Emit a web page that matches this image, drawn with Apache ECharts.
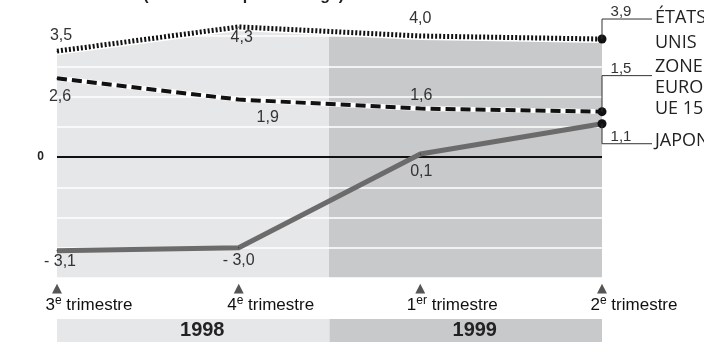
<!DOCTYPE html>
<html>
<head>
<meta charset="utf-8">
<script src="https://cdn.jsdelivr.net/npm/echarts@6/dist/echarts.min.js"></script>
<style>
  html, body { margin: 0; padding: 0; background: #fff; }
  #chart { width: 704px; height: 342px; }
</style>
</head>
<body>
<div id="chart"></div>
<script>
// Quarterly GDP growth, volume (% change)
const quarters = ['3e trimestre', '4e trimestre', '1er trimestre', '2e trimestre'];
const years = ['1998', '1999'];
const usValues = [3.5, 4.3, 4.0, 3.9];
const euroValues = [2.6, 1.9, 1.6, 1.5];
const japanValues = [-3.1, -3.0, 0.1, 1.1];
const seriesNames = ['ÉTATS-\nUNIS', 'ZONE\nEURO\nUE 15', 'JAPON'];

// Label placement (pixel offsets from each point)
const usLabelOffsets = [[4, -16], [3, 11], [0, -17]];
const euroLabelOffsets = [[3, 18], [29, 18], [1, -13]];
const japanLabelOffsets = [[3, 11], [0, 13], [1, 18]];

const LIGHT = '#e6e7e8';
const DARK = '#c8c9ca';
const LABEL_FONT = 'Liberation Sans, Arial, sans-serif';

function fmt(v) {
  const s = Math.abs(v).toFixed(1).replace('.', ',');
  return v < 0 ? '- ' + s : s;
}

function pointData(values, offsets) {
  return values.map((v, i) => i < offsets.length
    ? { value: v, label: { show: true, offset: offsets[i] } }
    : { value: v, label: { show: false } });
}

const pointLabel = {
  show: true,
  position: 'inside',
  formatter: p => fmt(p.value),
  fontSize: 16,
  color: '#333',
  fontFamily: LABEL_FONT
};

function endSymbolSize(values) {
  return (v, p) => (p.dataIndex === values.length - 1 ? 9 : 1);
}

const chart = echarts.init(document.getElementById('chart'), null, { renderer: 'canvas' });

const option = {
  animation: false,
  backgroundColor: '#fff',
  title: {
    text: '{b|PIB en volume} {n|(variation en }{b|pourcentage}{n|)}',
    left: 28,
    top: -13,
    padding: 0,
    textStyle: {
      rich: {
        b: { fontSize: 16, fontWeight: 'bold', color: '#222', fontFamily: LABEL_FONT },
        n: { fontSize: 16, color: '#222', fontFamily: LABEL_FONT }
      }
    }
  },
  grid: [
    { left: 57, right: 102, top: 36, bottom: 64, outerBoundsMode: 'none', containLabel: false },
    { left: 57, right: 102, top: 319, bottom: 0, outerBoundsMode: 'none', containLabel: false }
  ],
  xAxis: [
    {
      type: 'category',
      gridIndex: 0,
      data: quarters,
      boundaryGap: false,
      axisLine: { show: false },
      axisTick: { show: false },
      axisLabel: {
        interval: 0,
        margin: 4,
        hideOverlap: false,
        formatter: val => {
          const m = val.match(/^(\d+)(\D+?) (.+)$/);
          return '{tri|▲}\n{sp| }{n|' + m[1] + '}{sup|' + m[2] + '}{t| ' + m[3] + '}';
        },
        rich: {
          tri: { fontFamily: 'DejaVu Sans', fontSize: 13, color: '#555', lineHeight: 13, align: 'center' },
          sp: { width: 64, fontSize: 17, lineHeight: 20 },
          n: { fontSize: 17, color: '#111', fontFamily: LABEL_FONT, lineHeight: 20 },
          sup: { fontSize: 12, color: '#111', fontFamily: LABEL_FONT, lineHeight: 20, verticalAlign: 'top', padding: [0, 0, 7, 0] },
          t: { fontSize: 17, color: '#111', fontFamily: LABEL_FONT, lineHeight: 20 }
        }
      }
    },
    {
      type: 'category',
      gridIndex: 1,
      data: years,
      axisLine: { show: false },
      axisTick: { show: false },
      axisLabel: { show: false }
    }
  ],
  yAxis: [
    {
      type: 'value',
      gridIndex: 0,
      min: -4,
      max: 4,
      interval: 1,
      z: 2,
      axisLine: { show: false },
      axisTick: { show: false },
      splitLine: { show: true, lineStyle: { color: '#ffffff', width: 1.5 } },
      axisLabel: {
        margin: 13,
        formatter: v => (v === 0 ? '0' : ''),
        fontSize: 12,
        fontWeight: 'bold',
        color: '#222',
        fontFamily: LABEL_FONT
      }
    },
    {
      type: 'value',
      gridIndex: 1,
      min: 0,
      max: 1,
      show: false
    }
  ],
  series: [
    // shaded background under the US curve (1998 light, 1999 darker)
    {
      type: 'line',
      xAxisIndex: 0, yAxisIndex: 0,
      data: usValues,
      symbol: 'none',
      clip: false,
      silent: true,
      z: 1,
      lineStyle: { width: 0, opacity: 0 },
      areaStyle: {
        origin: 'start',
        opacity: 1,
        color: {
          type: 'linear', x: 0, y: 0, x2: 1, y2: 0,
          colorStops: [
            { offset: 0, color: LIGHT },
            { offset: 0.5, color: LIGHT },
            { offset: 0.5, color: DARK },
            { offset: 1, color: DARK }
          ]
        }
      }
    },
    // white halo under the US line + zero line
    {
      type: 'line',
      data: usValues,
      symbol: 'none',
      clip: false,
      silent: true,
      z: 3,
      lineStyle: { color: '#ffffff', width: 8 },
      markLine: {
        silent: true,
        symbol: 'none',
        label: { show: false },
        lineStyle: { color: '#111', width: 2, type: 'solid' },
        data: [{ yAxis: 0 }]
      }
    },
    // US: dotted
    {
      type: 'line',
      name: 'US',
      data: pointData(usValues, usLabelOffsets),
      clip: false,
      z: 6,
      symbol: 'circle',
      symbolSize: endSymbolSize(usValues),
      itemStyle: { color: '#111' },
      lineStyle: { color: '#111', width: 5, type: [2, 2], cap: 'butt' },
      label: pointLabel
    },
    // Euro zone: white base + black dashes
    {
      type: 'line',
      data: euroValues,
      symbol: 'none',
      clip: false,
      silent: true,
      z: 4,
      lineStyle: { color: '#ffffff', width: 5 }
    },
    {
      type: 'line',
      name: 'Euro',
      data: pointData(euroValues, euroLabelOffsets),
      clip: false,
      z: 5,
      symbol: 'circle',
      symbolSize: endSymbolSize(euroValues),
      itemStyle: { color: '#111' },
      lineStyle: { color: '#111', width: 4, type: [10, 5], cap: 'butt' },
      label: pointLabel
    },
    // Japan: solid grey
    {
      type: 'line',
      name: 'Japon',
      data: pointData(japanValues, japanLabelOffsets),
      clip: false,
      z: 7,
      symbol: 'circle',
      symbolSize: endSymbolSize(japanValues),
      itemStyle: { color: '#111' },
      lineStyle: { color: '#6b6b6b', width: 5, cap: 'butt', join: 'round' },
      label: pointLabel
    },
    // year band
    {
      type: 'bar',
      xAxisIndex: 1, yAxisIndex: 1,
      data: [
        { value: 1, itemStyle: { color: LIGHT } },
        { value: 1, itemStyle: { color: DARK } }
      ],
      barCategoryGap: 0,
      barWidth: '100%',
      silent: true,
      label: {
        show: true,
        position: 'inside',
        offset: [9, 0],
        formatter: '{b}',
        fontSize: 20,
        fontWeight: 'bold',
        color: '#222',
        fontFamily: LABEL_FONT
      }
    }
  ]
};

chart.setOption(option);

// Leader lines and names at the end of each curve
const endSeries = [usValues, euroValues, japanValues];
const leaderRise = [-20, -36, 20];
const nameShift = [-1, -9, -3];
const nameLineHeight = [25, 21, 21];
const graphics = [];
endSeries.forEach((values, k) => {
  const last = values.length - 1;
  const p = chart.convertToPixel({ gridIndex: 0 }, [last, values[last]]);
  const hy = p[1] + leaderRise[k];
  graphics.push({
    type: 'polyline',
    z: 20,
    silent: true,
    shape: { points: [[p[0], p[1]], [p[0], hy], [p[0] + 50, hy]] },
    style: { stroke: '#333', lineWidth: 1, fill: null }
  });
  graphics.push({
    type: 'text',
    z: 20,
    silent: true,
    x: p[0] + 19,
    y: hy - 7,
    style: {
      text: fmt(values[last]),
      font: '15px ' + LABEL_FONT,
      fill: '#333',
      align: 'center',
      verticalAlign: 'middle'
    }
  });
  graphics.push({
    type: 'text',
    z: 20,
    silent: true,
    x: p[0] + 53,
    y: hy + nameShift[k] - nameLineHeight[k] / 2,
    style: {
      text: seriesNames[k],
      font: '18px "Open Sans", sans-serif',
      lineHeight: nameLineHeight[k],
      fill: '#222',
      align: 'left',
      verticalAlign: 'top'
    }
  });
});
chart.setOption({ graphic: graphics });
</script>
</body>
</html>
